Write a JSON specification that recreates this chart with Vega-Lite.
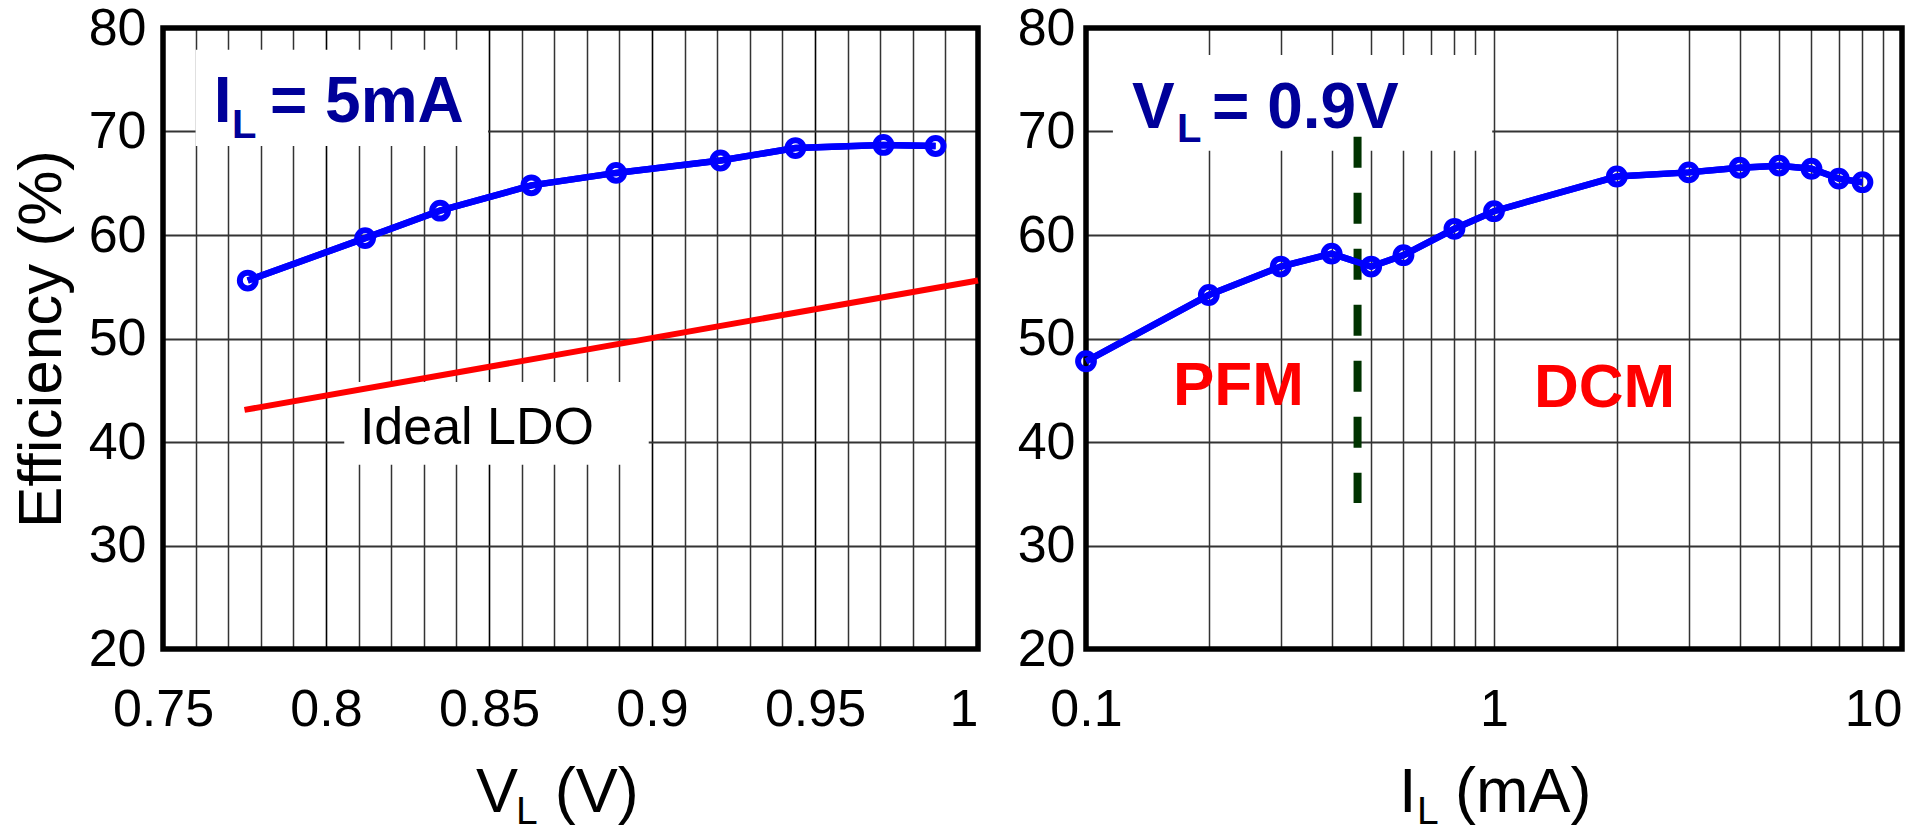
{
  "$schema": "https://vega.github.io/schema/vega-lite/v6.json",
  "background": "white",
  "padding": {"left": 10, "top": 2, "right": 0, "bottom": 0},
  "config": {
    "font": "Liberation Sans",
    "view": {"stroke": null},
    "axis": {
      "labelFont": "Liberation Sans",
      "labelFontSize": 52,
      "labelColor": "black",
      "titleColor": "black",
      "titleFont": "Liberation Sans",
      "domain": false,
      "ticks": false,
      "tickSize": 0,
      "labelOverlap": false,
      "labelBound": false,
      "labelFlush": false
    }
  },
  "datasets": {
    "vl_sweep": [
      {"VL": 0.776, "eff": 55.6},
      {"VL": 0.812, "eff": 59.7},
      {"VL": 0.835, "eff": 62.35},
      {"VL": 0.863, "eff": 64.8},
      {"VL": 0.889, "eff": 66.0},
      {"VL": 0.921, "eff": 67.2},
      {"VL": 0.944, "eff": 68.4},
      {"VL": 0.971, "eff": 68.7},
      {"VL": 0.987, "eff": 68.6}
    ],
    "ideal_ldo": [
      {"VL": 0.775, "eff": 43.1},
      {"VL": 1.0, "eff": 55.6}
    ],
    "il_sweep": [
      {"IL": 0.1, "eff": 47.8},
      {"IL": 0.2, "eff": 54.2},
      {"IL": 0.3, "eff": 56.95},
      {"IL": 0.4, "eff": 58.2},
      {"IL": 0.5, "eff": 56.95},
      {"IL": 0.6, "eff": 58.05},
      {"IL": 0.8, "eff": 60.6},
      {"IL": 1.0, "eff": 62.3},
      {"IL": 2.0, "eff": 65.65},
      {"IL": 3.0, "eff": 66.05},
      {"IL": 4.0, "eff": 66.5},
      {"IL": 5.0, "eff": 66.7},
      {"IL": 6.0, "eff": 66.4},
      {"IL": 7.0, "eff": 65.45},
      {"IL": 8.0, "eff": 65.1}
    ]
  },
  "hconcat": [
    {
      "width": 815,
      "height": 621,
      "resolve": {"axis": {"x": "independent"}},
      "layer": [
        {
          "data": {"values": [{}]},
          "mark": {"type": "rect", "fill": "white", "fillOpacity": 0, "strokeWidth": 0},
          "encoding": {
            "x": {
              "datum": 0.75, "type": "quantitative",
              "scale": {"domain": [0.75, 1.0], "nice": false, "zero": false},
              "axis": {
                "orient": "bottom",
                "title": null,
                "grid": true,
                "labels": false,
                "values": [0.75, 0.76, 0.77, 0.78, 0.79, 0.81, 0.82, 0.83, 0.84, 0.86, 0.87, 0.88, 0.89, 0.91, 0.92, 0.93, 0.94, 0.96, 0.97, 0.98, 0.99, 1.0],
                "gridColor": "#333333",
                "gridWidth": 1.5
              }
            },
            "x2": {"datum": 1.0},
            "y": {"datum": 20, "type": "quantitative", "scale": {"domain": [20, 80], "nice": false, "zero": false}},
            "y2": {"datum": 80}
          }
        },
        {
          "data": {"name": "vl_sweep"},
          "mark": {"type": "line", "color": "#0000FF", "strokeWidth": 6.5},
          "encoding": {
            "x": {
              "field": "VL", "type": "quantitative",
              "scale": {"domain": [0.75, 1.0], "nice": false, "zero": false},
              "axis": {
                "orient": "bottom",
                "title": null,
                "grid": true,
                "values": [0.75, 0.8, 0.85, 0.9, 0.95, 1.0],
                "format": "~g",
                "labelOverlap": false,
                "labelPadding": 35,
                "labelAlign": {"condition": {"test": "datum.value > 0.999", "value": "right"}, "value": "center"},
                "gridColor": "#000000",
                "gridWidth": 1.6
              }
            },
            "y": {
              "field": "eff", "type": "quantitative",
              "scale": {"domain": [20, 80], "nice": false, "zero": false},
              "axis": {
                "title": "Efficiency (%)",
                "titleFontSize": 62,
                "titleFontWeight": "normal",
                "titlePadding": 15,
                "grid": true,
                "values": [20, 30, 40, 50, 60, 70, 80],
                "labelOverlap": false,
                "labelPadding": 17,
                "gridColor": "#333333",
                "gridWidth": 2
              }
            }
          }
        },
        {
          "data": {"values": [{}]},
          "mark": {"type": "rect", "fill": "white", "strokeWidth": 0},
          "encoding": {
            "x": {"datum": 0.76, "type": "quantitative", "scale": {"domain": [0.75, 1.0], "nice": false, "zero": false}, "axis": null},
            "x2": {"datum": 0.8497},
            "y": {"datum": 68.6, "type": "quantitative", "scale": {"domain": [20, 80], "nice": false, "zero": false}},
            "y2": {"datum": 77.9}
          }
        },
        {
          "data": {"values": [{}]},
          "mark": {"type": "rect", "fill": "white", "strokeWidth": 0},
          "encoding": {
            "x": {"datum": 0.8056, "type": "quantitative", "scale": {"domain": [0.75, 1.0], "nice": false, "zero": false}, "axis": null},
            "x2": {"datum": 0.899},
            "y": {"datum": 37.8, "type": "quantitative", "scale": {"domain": [20, 80], "nice": false, "zero": false}},
            "y2": {"datum": 45.8}
          }
        },
        {
          "data": {"values": [{}]},
          "mark": {"type": "rect", "fill": "white", "fillOpacity": 0, "stroke": "black", "strokeWidth": 5.5},
          "encoding": {
            "x": {"datum": 0.75, "type": "quantitative", "scale": {"domain": [0.75, 1.0], "nice": false, "zero": false}, "axis": null},
            "x2": {"datum": 1.0},
            "y": {"datum": 20, "type": "quantitative", "scale": {"domain": [20, 80], "nice": false, "zero": false}},
            "y2": {"datum": 80}
          }
        },
        {
          "data": {"name": "ideal_ldo"},
          "mark": {"type": "line", "color": "#FF0000", "strokeWidth": 6},
          "encoding": {
            "x": {"field": "VL", "type": "quantitative", "scale": {"domain": [0.75, 1.0], "nice": false, "zero": false}, "axis": null},
            "y": {"field": "eff", "type": "quantitative", "scale": {"domain": [20, 80], "nice": false, "zero": false}}
          }
        },
        {
          "data": {"name": "vl_sweep"},
          "mark": {"type": "line", "color": "#0000FF", "strokeWidth": 6.5},
          "encoding": {
            "x": {"field": "VL", "type": "quantitative", "scale": {"domain": [0.75, 1.0], "nice": false, "zero": false}, "axis": null},
            "y": {"field": "eff", "type": "quantitative", "scale": {"domain": [20, 80], "nice": false, "zero": false}}
          }
        },
        {
          "data": {"name": "vl_sweep"},
          "mark": {"type": "point", "shape": "circle", "filled": false, "color": "#0000FF", "strokeWidth": 6, "size": 250, "opacity": 1},
          "encoding": {
            "x": {"field": "VL", "type": "quantitative", "scale": {"domain": [0.75, 1.0], "nice": false, "zero": false}, "axis": null},
            "y": {"field": "eff", "type": "quantitative", "scale": {"domain": [20, 80], "nice": false, "zero": false}}
          }
        },
        {
          "data": {"values": [{}]},
          "mark": {"type": "text", "text": "I", "align": "left", "baseline": "alphabetic", "font": "Liberation Sans", "fontWeight": "bold", "fontSize": 64, "color": "#000099"},
          "encoding": {
            "x": {"datum": 0.7656, "type": "quantitative", "scale": {"domain": [0.75, 1.0], "nice": false, "zero": false}, "axis": null},
            "y": {"datum": 70.92, "type": "quantitative", "scale": {"domain": [20, 80], "nice": false, "zero": false}}
          }
        },
        {
          "data": {"values": [{}]},
          "mark": {"type": "text", "text": "L", "align": "left", "baseline": "alphabetic", "font": "Liberation Sans", "fontWeight": "bold", "fontSize": 40, "color": "#000099"},
          "encoding": {
            "x": {"datum": 0.7712, "type": "quantitative", "scale": {"domain": [0.75, 1.0], "nice": false, "zero": false}, "axis": null},
            "y": {"datum": 69.34, "type": "quantitative", "scale": {"domain": [20, 80], "nice": false, "zero": false}}
          }
        },
        {
          "data": {"values": [{}]},
          "mark": {"type": "text", "text": "= 5mA", "align": "left", "baseline": "alphabetic", "font": "Liberation Sans", "fontWeight": "bold", "fontSize": 64, "color": "#000099"},
          "encoding": {
            "x": {"datum": 0.7828, "type": "quantitative", "scale": {"domain": [0.75, 1.0], "nice": false, "zero": false}, "axis": null},
            "y": {"datum": 70.92, "type": "quantitative", "scale": {"domain": [20, 80], "nice": false, "zero": false}}
          }
        },
        {
          "data": {"values": [{}]},
          "mark": {"type": "text", "text": "Ideal LDO", "align": "left", "baseline": "alphabetic", "font": "Liberation Sans", "fontSize": 52, "color": "black"},
          "encoding": {
            "x": {"datum": 0.8104, "type": "quantitative", "scale": {"domain": [0.75, 1.0], "nice": false, "zero": false}, "axis": null},
            "y": {"datum": 39.8, "type": "quantitative", "scale": {"domain": [20, 80], "nice": false, "zero": false}}
          }
        },
        {
          "data": {"values": [{}]},
          "mark": {"type": "text", "text": "V", "align": "left", "baseline": "alphabetic", "font": "Liberation Sans", "fontSize": 63, "color": "black"},
          "encoding": {
            "x": {"datum": 0.846, "type": "quantitative", "scale": {"domain": [0.75, 1.0], "nice": false, "zero": false}, "axis": null},
            "y": {"datum": 4.25, "type": "quantitative", "scale": {"domain": [20, 80], "nice": false, "zero": false}}
          }
        },
        {
          "data": {"values": [{}]},
          "mark": {"type": "text", "text": "L", "align": "left", "baseline": "alphabetic", "font": "Liberation Sans", "fontSize": 39, "color": "black"},
          "encoding": {
            "x": {"datum": 0.8583, "type": "quantitative", "scale": {"domain": [0.75, 1.0], "nice": false, "zero": false}, "axis": null},
            "y": {"datum": 3.1, "type": "quantitative", "scale": {"domain": [20, 80], "nice": false, "zero": false}}
          }
        },
        {
          "data": {"values": [{}]},
          "mark": {"type": "text", "text": "(V)", "align": "left", "baseline": "alphabetic", "font": "Liberation Sans", "fontSize": 63, "color": "black"},
          "encoding": {
            "x": {"datum": 0.8702, "type": "quantitative", "scale": {"domain": [0.75, 1.0], "nice": false, "zero": false}, "axis": null},
            "y": {"datum": 4.25, "type": "quantitative", "scale": {"domain": [20, 80], "nice": false, "zero": false}}
          }
        }
      ]
    },
    {
      "width": 816,
      "height": 621,
      "layer": [
        {
          "data": {"name": "il_sweep"},
          "mark": {"type": "line", "color": "#0000FF", "strokeWidth": 6.5},
          "encoding": {
            "x": {
              "field": "IL", "type": "quantitative",
              "scale": {"type": "log", "domain": [0.1, 10], "nice": false},
              "axis": {
                "title": null,
                "grid": true,
                "values": [0.1, 0.2, 0.3, 0.4, 0.5, 0.6, 0.7, 0.8, 0.9, 1, 2, 3, 4, 5, 6, 7, 8, 9, 10],
                "format": "~g",
                "labelOverlap": false,
                "labelExpr": "indexof([0.1, 1, 10], datum.value) >= 0 ? datum.label : ''",
                "labelPadding": 35,
                "labelAlign": {"condition": {"test": "datum.value > 9.99", "value": "right"}, "value": "center"},
                "gridColor": "#333333",
                "gridWidth": 1.5
              }
            },
            "y": {
              "field": "eff", "type": "quantitative",
              "scale": {"domain": [20, 80], "nice": false, "zero": false},
              "axis": {
                "title": null,
                "grid": true,
                "values": [20, 30, 40, 50, 60, 70, 80],
                "labelOverlap": false,
                "labelPadding": 11,
                "gridColor": "#333333",
                "gridWidth": 2
              }
            }
          }
        },
        {
          "data": {"values": [{}]},
          "mark": {"type": "rect", "fill": "white", "strokeWidth": 0},
          "encoding": {
            "x": {"datum": 0.1164, "type": "quantitative", "scale": {"type": "log", "domain": [0.1, 10], "nice": false}},
            "x2": {"datum": 0.99},
            "y": {"datum": 68.15, "type": "quantitative", "scale": {"domain": [20, 80], "nice": false, "zero": false}},
            "y2": {"datum": 77.4}
          }
        },
        {
          "data": {"values": [{}]},
          "mark": {"type": "rect", "fill": "white", "fillOpacity": 0, "stroke": "black", "strokeWidth": 5.5},
          "encoding": {
            "x": {"datum": 0.1, "type": "quantitative", "scale": {"type": "log", "domain": [0.1, 10], "nice": false}},
            "x2": {"datum": 10},
            "y": {"datum": 20, "type": "quantitative", "scale": {"domain": [20, 80], "nice": false, "zero": false}},
            "y2": {"datum": 80}
          }
        },
        {
          "data": {"values": [{}]},
          "mark": {"type": "rule", "color": "#003300", "strokeWidth": 8, "strokeDash": [31, 25], "strokeCap": "butt"},
          "encoding": {
            "x": {"datum": 0.463, "type": "quantitative", "scale": {"type": "log", "domain": [0.1, 10], "nice": false}},
            "y": {"datum": 69.5, "type": "quantitative", "scale": {"domain": [20, 80], "nice": false, "zero": false}},
            "y2": {"datum": 34.1}
          }
        },
        {
          "data": {"name": "il_sweep"},
          "mark": {"type": "line", "color": "#0000FF", "strokeWidth": 6.5},
          "encoding": {
            "x": {"field": "IL", "type": "quantitative", "scale": {"type": "log", "domain": [0.1, 10], "nice": false}},
            "y": {"field": "eff", "type": "quantitative", "scale": {"domain": [20, 80], "nice": false, "zero": false}}
          }
        },
        {
          "data": {"name": "il_sweep"},
          "mark": {"type": "point", "shape": "circle", "filled": false, "color": "#0000FF", "strokeWidth": 6, "size": 250, "opacity": 1},
          "encoding": {
            "x": {"field": "IL", "type": "quantitative", "scale": {"type": "log", "domain": [0.1, 10], "nice": false}},
            "y": {"field": "eff", "type": "quantitative", "scale": {"domain": [20, 80], "nice": false, "zero": false}}
          }
        },
        {
          "data": {"values": [{}]},
          "mark": {"type": "text", "text": "V", "align": "left", "baseline": "alphabetic", "font": "Liberation Sans", "fontWeight": "bold", "fontSize": 64, "color": "#000099"},
          "encoding": {
            "x": {"datum": 0.1297, "type": "quantitative", "scale": {"type": "log", "domain": [0.1, 10], "nice": false}},
            "y": {"datum": 70.31, "type": "quantitative", "scale": {"domain": [20, 80], "nice": false, "zero": false}}
          }
        },
        {
          "data": {"values": [{}]},
          "mark": {"type": "text", "text": "L", "align": "left", "baseline": "alphabetic", "font": "Liberation Sans", "fontWeight": "bold", "fontSize": 40, "color": "#000099"},
          "encoding": {
            "x": {"datum": 0.1671, "type": "quantitative", "scale": {"type": "log", "domain": [0.1, 10], "nice": false}},
            "y": {"datum": 69.0, "type": "quantitative", "scale": {"domain": [20, 80], "nice": false, "zero": false}}
          }
        },
        {
          "data": {"values": [{}]},
          "mark": {"type": "text", "text": "= 0.9V", "align": "left", "baseline": "alphabetic", "font": "Liberation Sans", "fontWeight": "bold", "fontSize": 64, "color": "#000099"},
          "encoding": {
            "x": {"datum": 0.2036, "type": "quantitative", "scale": {"type": "log", "domain": [0.1, 10], "nice": false}},
            "y": {"datum": 70.31, "type": "quantitative", "scale": {"domain": [20, 80], "nice": false, "zero": false}}
          }
        },
        {
          "data": {"values": [{}]},
          "mark": {"type": "text", "text": "PFM", "align": "left", "baseline": "alphabetic", "font": "Liberation Sans", "fontWeight": "bold", "fontSize": 62, "color": "#FF0000"},
          "encoding": {
            "x": {"datum": 0.1634, "type": "quantitative", "scale": {"type": "log", "domain": [0.1, 10], "nice": false}},
            "y": {"datum": 43.6, "type": "quantitative", "scale": {"domain": [20, 80], "nice": false, "zero": false}}
          }
        },
        {
          "data": {"values": [{}]},
          "mark": {"type": "text", "text": "DCM", "align": "left", "baseline": "alphabetic", "font": "Liberation Sans", "fontWeight": "bold", "fontSize": 62, "color": "#FF0000"},
          "encoding": {
            "x": {"datum": 1.253, "type": "quantitative", "scale": {"type": "log", "domain": [0.1, 10], "nice": false}},
            "y": {"datum": 43.4, "type": "quantitative", "scale": {"domain": [20, 80], "nice": false, "zero": false}}
          }
        },
        {
          "data": {"values": [{}]},
          "mark": {"type": "text", "text": "I", "align": "left", "baseline": "alphabetic", "font": "Liberation Sans", "fontSize": 63, "color": "black"},
          "encoding": {
            "x": {"datum": 0.585, "type": "quantitative", "scale": {"type": "log", "domain": [0.1, 10], "nice": false}},
            "y": {"datum": 4.25, "type": "quantitative", "scale": {"domain": [20, 80], "nice": false, "zero": false}}
          }
        },
        {
          "data": {"values": [{}]},
          "mark": {"type": "text", "text": "L", "align": "left", "baseline": "alphabetic", "font": "Liberation Sans", "fontSize": 39, "color": "black"},
          "encoding": {
            "x": {"datum": 0.648, "type": "quantitative", "scale": {"type": "log", "domain": [0.1, 10], "nice": false}},
            "y": {"datum": 3.1, "type": "quantitative", "scale": {"domain": [20, 80], "nice": false, "zero": false}}
          }
        },
        {
          "data": {"values": [{}]},
          "mark": {"type": "text", "text": "(mA)", "align": "left", "baseline": "alphabetic", "font": "Liberation Sans", "fontSize": 63, "color": "black"},
          "encoding": {
            "x": {"datum": 0.8025, "type": "quantitative", "scale": {"type": "log", "domain": [0.1, 10], "nice": false}},
            "y": {"datum": 4.25, "type": "quantitative", "scale": {"domain": [20, 80], "nice": false, "zero": false}}
          }
        }
      ]
    }
  ],
  "spacing": 108,
  "bounds": "flush"
}
